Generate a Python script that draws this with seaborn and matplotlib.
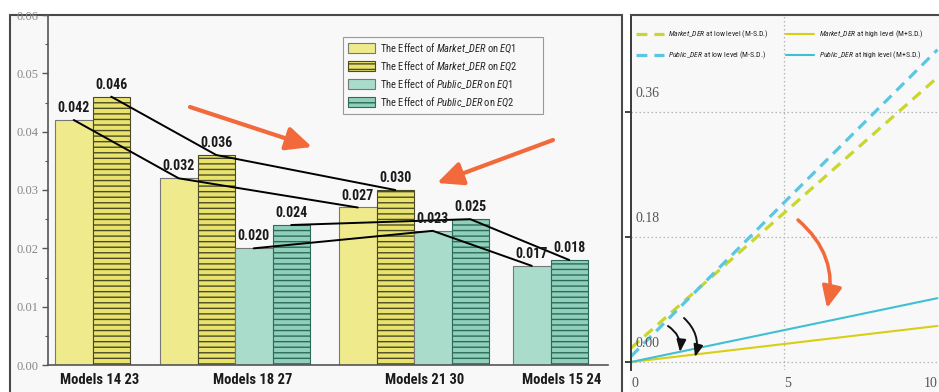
import numpy as np
import pandas as pd
import matplotlib
matplotlib.use("Agg")
import matplotlib.pyplot as plt
from matplotlib import font_manager as fm
from matplotlib.patches import Rectangle, FancyArrowPatch
import seaborn as sns

# ---------------------------------------------------------------- data
models = ["Models 14 23", "Models 18 27", "Models 21 30", "Models 15 24"]
market_eq1 = [0.042, 0.032, 0.027, np.nan]
market_eq2 = [0.046, 0.036, 0.030, np.nan]
public_eq1 = [np.nan, 0.020, 0.023, 0.017]
public_eq2 = [np.nan, 0.024, 0.025, 0.018]

der_x = [0, 5, 10]
market_low = [0.020, 0.215, 0.410]
public_low = [0.008, 0.230, 0.450]
market_high = [0.000, 0.026, 0.052]
public_high = [0.000, 0.046, 0.092]

y_ticks_left = [0.00, 0.01, 0.02, 0.03, 0.04, 0.05, 0.06]
y_ticks_right = [0.00, 0.18, 0.36]
x_ticks_right = [0, 5, 10]

# ---------------------------------------------------------------- fonts
sns.set_theme(style="white")


def first_available(families):
    for fam in families:
        try:
            fm.findfont(fm.FontProperties(family=fam), fallback_to_default=False)
            return fam
        except ValueError:
            continue
    return "DejaVu Sans"


NARROW = first_available(["Liberation Sans Narrow", "DejaVu Sans Condensed",
                          "Roboto Condensed", "Liberation Sans"])
SERIF = first_available(["Liberation Serif", "DejaVu Serif"])
plt.rcParams["font.family"] = [NARROW, "DejaVu Sans"]
plt.rcParams["mathtext.fontset"] = "custom"
plt.rcParams["mathtext.rm"] = NARROW
plt.rcParams["mathtext.it"] = f"{NARROW}:italic"
plt.rcParams["mathtext.bf"] = f"{NARROW}:bold"
plt.rcParams["hatch.linewidth"] = 1.0

W, H = 939, 392
fig = plt.figure(figsize=(W / 100, H / 100), dpi=100)
fig.patch.set_facecolor("white")


def px_box(x0, y0, x1, y1):
    """Figure-fraction rectangle from pixel edges (y measured from the top)."""
    return [x0 / W, 1 - y1 / H, (x1 - x0) / W, (y1 - y0) / H]


# panel frames / backgrounds
fig.add_artist(Rectangle((10 / W, -0.1), 612 / W, 1 - 15 / H + 0.1,
                         transform=fig.transFigure, facecolor="#f8f8f8",
                         edgecolor="#4a4a4a", lw=1.5, zorder=0))
fig.add_artist(Rectangle((630 / W, -0.1), 0.5, 1 - 15 / H + 0.1,
                         transform=fig.transFigure, facecolor="#f8f8f8",
                         edgecolor="none", lw=0, zorder=0))

# ================================================================ left panel
series_keys = ["m1", "m2", "p1", "p2"]
series_vals = [market_eq1, market_eq2, public_eq1, public_eq2]
legend_labels = [
    r"The Effect of $\mathit{Market\_DER}$ on $\mathit{EQ1}$",
    r"The Effect of $\mathit{Market\_DER}$ on $\mathit{EQ2}$",
    r"The Effect of $\mathit{Public\_DER}$ on $\mathit{EQ1}$",
    r"The Effect of $\mathit{Public\_DER}$ on $\mathit{EQ2}$",
]
fill = {"m1": "#efeb8c", "m2": "#e9e36e", "p1": "#a9dccb", "p2": "#90cfba"}
hatch_col = {"m2": "#4b4a26", "p2": "#2c6b5b"}

# cluster layout along the x axis (pixel-like units, one bar = BAR_W)
BAR_W = 37.5
CLUSTER_LEFT = [7, 112, 291, 465]
LABEL_X = [52, 205, 377, 514]

rows = []
for g, model in enumerate(models):
    present = [(k, v[g]) for k, v in zip(series_keys, series_vals) if not np.isnan(v[g])]
    for slot, (k, val) in enumerate(present):
        rows.append({"model": model, "series": k, "value": val,
                     "pos": CLUSTER_LEFT[g] + (slot + 0.5) * BAR_W})
bars = pd.DataFrame(rows)

axL = fig.add_axes(px_box(48, 15, 608, 365))
axL.set_facecolor("none")
sns.barplot(data=bars, x="pos", y="value", hue="series", hue_order=series_keys,
            palette=fill, native_scale=True, dodge=False, width=1.0,
            saturation=1, errorbar=None, legend=False, linewidth=0.8,
            edgecolor="#777777", ax=axL)
for key, cont in zip(series_keys, axL.containers):
    if key in hatch_col:
        for p in cont:
            p.set_hatch("---")
            p.set_edgecolor(hatch_col[key])

sns.lineplot(data=bars, x="pos", y="value", hue="series", hue_order=series_keys,
             palette={k: "black" for k in series_keys}, legend=False,
             estimator=None, lw=1.4, ax=axL)

for _, r in bars.iterrows():
    axL.annotate(f"{r['value']:.3f}", (r["pos"], r["value"]), xytext=(0, 3.5),
                 textcoords="offset points", ha="center", va="bottom",
                 fontsize=10, fontweight="bold", color="#1a1a1a", zorder=5)

axL.set_xlim(0, 560)
axL.set_ylim(0, 0.06)
axL.set_yticks(y_ticks_left, [f"{t:.2f}" for t in y_ticks_left],
               fontfamily=SERIF, fontsize=9, color="#888888")
axL.set_yticks(np.arange(0.005, 0.06, 0.01), minor=True)
axL.set_xticks(LABEL_X, models, fontsize=10.5, fontweight="bold", color="#1a1a1a")
axL.tick_params(axis="x", length=0, pad=6)
axL.tick_params(axis="y", which="major", direction="out", length=4, width=1,
                color="#555555", left=True, pad=3)
axL.tick_params(axis="y", which="minor", direction="out", length=2.5, width=0.8,
                color="#555555", left=True)
axL.set_xlabel("")
axL.set_ylabel("")
for side in ["top", "right"]:
    axL.spines[side].set_visible(False)
for side in ["left", "bottom"]:
    axL.spines[side].set_color("#555555")
    axL.spines[side].set_linewidth(1.2)

leg_x0 = (343 - 48) / 560
leg_w = (543 - 343) / 560
leg_top = (365 - 37) / 350
legL = axL.legend(axL.containers, legend_labels, loc="upper left",
                  bbox_to_anchor=(leg_x0, leg_top - 0.3, leg_w, 0.3),
                  mode="expand", borderaxespad=0, fontsize=7.6,
                  handlelength=2.6, handleheight=1.05, labelspacing=0.42,
                  handletextpad=0.5, borderpad=0.45, fancybox=False,
                  framealpha=1, facecolor="#f8f8f8", edgecolor="#9a9a9a")
legL.get_frame().set_linewidth(0.8)

# orange trend arrows
orange = "#f26a3b"
for (x0, y0), (x1, y1) in [((190, 107), (312, 147)), ((553, 140), (437, 183))]:
    fig.add_artist(FancyArrowPatch(
        (x0, H - y0), (x1, H - y1), transform=None,
        arrowstyle="-|>,head_length=1.3,head_width=0.6", mutation_scale=12,
        color=orange, lw=3, shrinkA=0, shrinkB=0, zorder=6))

# ================================================================ right panel
axR = fig.add_axes(px_box(631, 15, 939, 370))
axR.set_facecolor("#f8f8f8")

lines = pd.DataFrame({
    "x": der_x * 4,
    "y": market_low + public_low + market_high + public_high,
    "series": (["Market_DER low"] * 3 + ["Public_DER low"] * 3
               + ["Market_DER high"] * 3 + ["Public_DER high"] * 3),
})
line_col = {"Market_DER low": "#c9d62c", "Public_DER low": "#5cc6e0",
            "Market_DER high": "#d8cf14", "Public_DER high": "#3fc0d2"}
low = lines[lines["series"].str.endswith("low")]
high = lines[lines["series"].str.endswith("high")]
sns.lineplot(data=low, x="x", y="y", hue="series", palette=line_col,
             legend=False, lw=2.3, estimator=None, ax=axR)
sns.lineplot(data=high, x="x", y="y", hue="series", palette=line_col,
             legend=False, lw=1.5, estimator=None, ax=axR)
for ln in axR.lines[:2]:
    ln.set_dashes((3.4, 2.2))

axR.set_xlim(0, 10.05)
axR.set_ylim(-0.0115, 0.5)
axR.set_yticks(y_ticks_right, ["" for _ in y_ticks_right])
axR.set_xticks(x_ticks_right, [str(t) for t in x_ticks_right],
               fontfamily=SERIF, fontsize=10, color="#555555")
for lab, ha in zip(axR.get_xticklabels(), ["left", "left", "right"]):
    lab.set_ha(ha)
axR.tick_params(axis="x", length=0, pad=5)
axR.tick_params(axis="y", direction="out", length=4, width=1.2, color="#222222",
                left=True)
for t in y_ticks_right:
    axR.annotate(f"{t:.2f}", (0, t), xytext=(3.5, 8.5), textcoords="offset points",
                 ha="left", va="bottom", fontfamily=SERIF, fontsize=10,
                 color="#555555")
for t in y_ticks_right:
    axR.axhline(t, color="#b5b5b5", lw=0.9, ls=(0, (1.2, 2)), zorder=0.5)
axR.axvline(5, color="#b5b5b5", lw=0.9, ls=(0, (1.2, 2)), zorder=0.5)
axR.set_xlabel("")
axR.set_ylabel("")
for side in ["right", "bottom"]:
    axR.spines[side].set_visible(False)
axR.spines["left"].set_color("#3a3a3a")
axR.spines["left"].set_linewidth(1.4)
axR.spines["top"].set_color("#4a4a4a")
axR.spines["top"].set_linewidth(1.5)

handles = axR.lines[:4]
labels_r = [r"$\mathit{Market\_DER}$ at low level (M-S.D.)",
            r"$\mathit{Public\_DER}$ at low level (M-S.D.)",
            r"$\mathit{Market\_DER}$ at high level (M+S.D.)",
            r"$\mathit{Public\_DER}$ at high level (M+S.D.)"]
axR.legend(handles, labels_r, ncol=2, loc="upper left",
           bbox_to_anchor=(0.0, 0.975), borderaxespad=0.2, frameon=False,
           fontsize=5.6, handlelength=3.6, handletextpad=0.6,
           columnspacing=2.2, labelspacing=1.3)

# curved annotation arrows
fig.add_artist(FancyArrowPatch(
    (798, H - 220), (827, H - 308), transform=None,
    connectionstyle="arc3,rad=-0.3",
    arrowstyle="-|>,head_length=1.2,head_width=0.55", mutation_scale=11,
    color=orange, lw=2.5, shrinkA=0, shrinkB=0, zorder=6))
for (x0, y0), (x1, y1) in [((668, 326), (680, 352)), ((684, 318), (695, 357))]:
    fig.add_artist(FancyArrowPatch(
        (x0, H - y0), (x1, H - y1), transform=None,
        connectionstyle="arc3,rad=-0.3",
        arrowstyle="-|>,head_length=0.9,head_width=0.35", mutation_scale=8,
        color="#111111", lw=1.4, shrinkA=0, shrinkB=0, zorder=6))

fig.savefig("out.png", dpi=100, facecolor=fig.get_facecolor())
